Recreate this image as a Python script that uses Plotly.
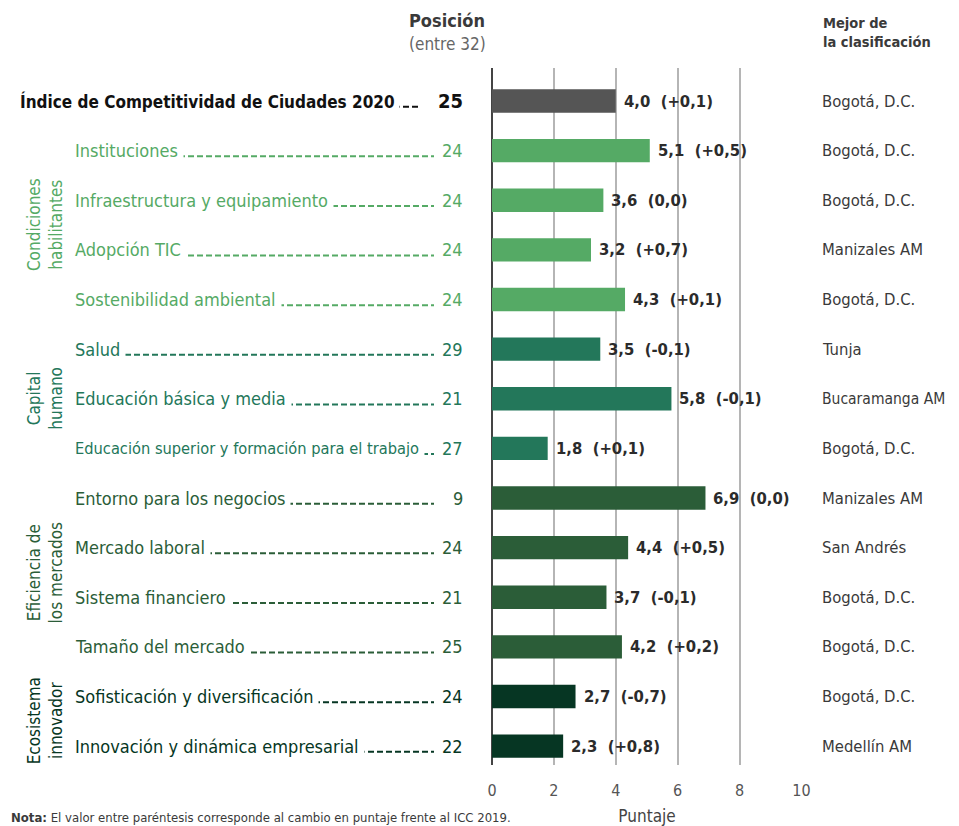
import plotly.graph_objects as go

# ---------------- data ----------------
categories = [
    "Índice de Competitividad de Ciudades 2020",
    "Instituciones",
    "Infraestructura y equipamiento",
    "Adopción TIC",
    "Sostenibilidad ambiental",
    "Salud",
    "Educación básica y media",
    "Educación superior y formación para el trabajo",
    "Entorno para los negocios",
    "Mercado laboral",
    "Sistema financiero",
    "Tamaño del mercado",
    "Sofisticación y diversificación",
    "Innovación y dinámica empresarial",
]
scores = [4.0, 5.1, 3.6, 3.2, 4.3, 3.5, 5.8, 1.8, 6.9, 4.4, 3.7, 4.2, 2.7, 2.3]
changes = ["+0,1", "+0,5", "0,0", "+0,7", "+0,1", "-0,1", "-0,1", "+0,1",
           "0,0", "+0,5", "-0,1", "+0,2", "-0,7", "+0,8"]
positions = [25, 24, 24, 24, 24, 29, 21, 27, 9, 24, 21, 25, 24, 22]
best_city = ["Bogotá, D.C.", "Bogotá, D.C.", "Bogotá, D.C.", "Manizales AM",
             "Bogotá, D.C.", "Tunja", "Bucaramanga AM", "Bogotá, D.C.",
             "Manizales AM", "San Andrés", "Bogotá, D.C.", "Bogotá, D.C.",
             "Bogotá, D.C.", "Medellín AM"]
group_of = [None, 0, 0, 0, 0, 1, 1, 1, 2, 2, 2, 2, 3, 3]
group_names = ["Condiciones<br>habilitantes", "Capital<br>humano",
               "Eficiencia de<br>los mercados", "Ecosistema<br>innovador"]
x_ticks = [0, 2, 4, 6, 8, 10]

# ---------------- styles ----------------
FONT = "DejaVu Sans Condensed, Liberation Sans Narrow, Roboto, sans-serif"
group_colors = ["#55AA65", "#23775A", "#2B5D38", "#063623"]
index_color = "#555555"
bar_colors = [index_color if g is None else group_colors[g] for g in group_of]
text_colors = ["#111111" if g is None else group_colors[g] for g in group_of]

# page body has an 8px margin: figure is 8px smaller on each side
OFF = 8
W, H = 959 - OFF, 826 - OFF
PLOT_X0, PLOT_X1 = 492, 802     # screen px of plot area
PLOT_Y0, PLOT_Y1 = 68, 765
L = PLOT_X0 - OFF
T = PLOT_Y0 - OFF
R = W - (PLOT_X1 - OFF)
B = H - (PLOT_Y1 - OFF)
PW = PLOT_X1 - PLOT_X0
PH = PLOT_Y1 - PLOT_Y0


def px(xs):
    return (xs - PLOT_X0) / PW


def py(ys):
    return (PLOT_Y1 - ys) / PH


fig = go.Figure()
fig.add_trace(go.Bar(
    x=scores, y=categories, orientation="h",
    marker=dict(color=bar_colors, line=dict(width=0)),
    width=0.47, hoverinfo="skip", showlegend=False,
))

ann = []
shapes = []
for i, cat in enumerate(categories):
    is_idx = group_of[i] is None
    col = text_colors[i]
    if is_idx:
        fs = 17
    elif len(cat) > 40:
        fs = 16.3
    else:
        fs = 18
    pad = 4 if is_idx else 5
    x0 = 20 if is_idx else 75
    x_end = 419 if is_idx else 434
    # leader line
    shapes.append(dict(type="line", xref="paper", yref="y",
                       x0=px(x0 + 5), x1=px(x_end), y0=i + 0.115, y1=i + 0.115,
                       line=dict(color=col, width=2, dash="6px,3px")))
    label = f"<b>{cat}</b>" if is_idx else cat
    ann.append(dict(xref="paper", yref="y", x=px(x0 - pad - 1), y=i, text=label,
                    xanchor="left", yanchor="middle", showarrow=False,
                    font=dict(family=FONT, size=fs, color=col),
                    bgcolor="white", borderpad=pad))
    num = f"<b>{positions[i]}</b>" if is_idx else str(positions[i])
    ann.append(dict(xref="paper", yref="y", x=px(466), y=i, text=num,
                    xanchor="right", yanchor="middle", showarrow=False,
                    font=dict(family=FONT, size=20 if is_idx else 18, color=col),
                    bgcolor="white", borderpad=2))
    # value labels
    val = f"{scores[i]:.1f}".replace(".", ",")
    ann.append(dict(xref="x", yref="y", x=scores[i], y=i, xshift=6,
                    text=f"<b>{val}  ({changes[i]})</b>",
                    xanchor="left", yanchor="middle", showarrow=False,
                    font=dict(family=FONT, size=16.5, color="#2b2b2b")))
    # best city
    city = best_city[i]
    ann.append(dict(xref="paper", yref="y", x=px(820), y=i,
                    text=city, xanchor="left", yanchor="middle",
                    showarrow=False,
                    font=dict(family=FONT, size=16.5 if len(city) <= 12 else 15.5,
                              color="#3a3a3a")))

# group labels (vertical)
for g, name in enumerate(group_names):
    idx = [i for i, gg in enumerate(group_of) if gg == g]
    ymid = (idx[0] + idx[-1]) / 2
    ann.append(dict(xref="paper", yref="y", x=px(45), y=ymid, text=name,
                    textangle=-90, xanchor="center", yanchor="middle",
                    showarrow=False,
                    font=dict(family=FONT, size=17, color=group_colors[g])))

# headers
ann += [
    dict(xref="paper", yref="paper", x=px(447), y=py(20), text="<b>Posición</b>",
         showarrow=False, xanchor="center", yanchor="middle",
         font=dict(family=FONT, size=18, color="#3a3a3a")),
    dict(xref="paper", yref="paper", x=px(447), y=py(44), text="(entre 32)",
         showarrow=False, xanchor="center", yanchor="middle",
         font=dict(family=FONT, size=17, color="#666666")),
    dict(xref="paper", yref="paper", x=px(821), y=py(33),
         text="<b>Mejor de<br>la clasificación</b>",
         showarrow=False, xanchor="left", yanchor="middle", align="left",
         font=dict(family=FONT, size=14.5, color="#3a3a3a")),
    dict(xref="paper", yref="paper", x=px(9), y=py(817),
         text="<b>Nota:</b> El valor entre paréntesis corresponde al cambio en puntaje frente al ICC 2019.",
         showarrow=False, xanchor="left", yanchor="middle",
         font=dict(family=FONT, size=13, color="#3a3a3a")),
]

fig.update_layout(
    width=W, height=H,
    margin=dict(l=L, r=R, t=T, b=B, autoexpand=False),
    paper_bgcolor="white", plot_bgcolor="white",
    font=dict(family=FONT),
    bargap=0.5,
    annotations=ann, shapes=shapes,
    xaxis=dict(range=[0, 10.02], tickvals=x_ticks,
               ticktext=[str(t) for t in x_ticks],
               showgrid=True, gridcolor="#b5b5b5", gridwidth=1.5,
               zeroline=True, zerolinecolor="#444444", zerolinewidth=2,
               ticks="", ticklabelstandoff=14,
               tickfont=dict(family=FONT, size=16, color="#555555"),
               title=dict(text="Puntaje", standoff=11,
                          font=dict(family=FONT, size=17, color="#444444")),
               fixedrange=True),
    yaxis=dict(categoryorder="array", categoryarray=categories,
               range=[13.38, -0.665], showticklabels=False,
               showgrid=False, zeroline=False, ticks="", fixedrange=True),
)

fig.write_html("out.html")
